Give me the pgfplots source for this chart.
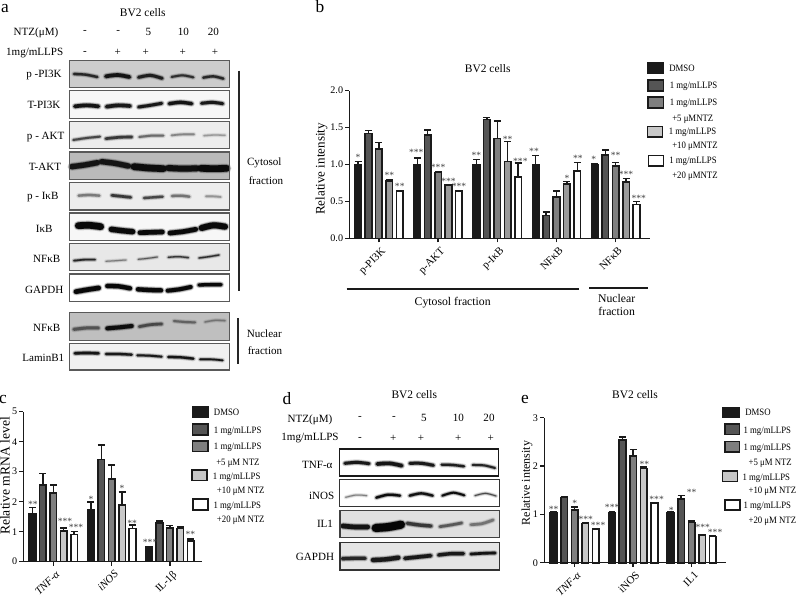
\documentclass[border=0pt]{standalone}
\usepackage{fontspec}
\setmainfont{Liberation Serif}
\newfontfamily\cond[FakeStretch=0.9]{Liberation Serif}
\usepackage{pgfplots}
\pgfplotsset{compat=1.18}

\definecolor{cA}{HTML}{1A1A1A}
\definecolor{cB}{HTML}{555555}
\definecolor{cC}{HTML}{7F7F7F}
\definecolor{cD}{HTML}{C8C8C8}
\definecolor{cDb}{HTML}{9A9A9A}
\definecolor{star}{HTML}{404040}

\newcommand\ft[1]{\fontsize{#1}{#1}\selectfont}
% text centred / left aligned at pixel positions
\newcommand\tc[4]{\node[inner sep=0pt] at (#1,#2) {\ft{#3}#4};}
\newcommand\tl[3]{\node[inner sep=0pt,anchor=west] at (#1,#2) {\cond\ft{7.3}#3};}
\newcommand\swatch[5]{\draw[line width=1.2pt,draw=cA,fill=#5] (#1,#2) rectangle (#3,#4);}

% one blot band: x left, x right, y left, y mid, y right, thickness, blackness
\newcommand\band[7]{%
  \pgfmathsetmacro\xm{(#1+#2)/2}%
  \addplot[smooth,black!#7,draw opacity=.16,line cap=round,line width={(#6+6)*0.25pt}] coordinates {(#1,#3)(\xm,#4)(#2,#5)};
  \addplot[smooth,black!#7,draw opacity=.35,line cap=round,line width={(#6+1)*0.25pt}] coordinates {(#1,#3)(\xm,#4)(#2,#5)};
  \addplot[smooth,black!#7,line cap=round,line width={(#6-3)*0.25pt}] coordinates {(#1,#3)(\xm,#4)(#2,#5)};
}
% blot panel: x1 y1 x2 y2 background frame
\newcommand\blot[6]{%
  \addplot[fill=#5,draw=none] coordinates {(#1,#2)(#3,#2)(#3,#4)(#1,#4)} --cycle;
}
\newcommand\frm[5]{%
  \addplot[draw=#5,line width=0.8pt] coordinates {(#1,#2)(#3,#2)(#3,#4)(#1,#4)} --cycle;
}

\pgfplotsset{
  ser/.style 2 args={ybar,bar width=5pt,bar shift=#1,fill=#2,draw=cA,line width=1.2pt,
    every error bar/.append style={xshift=#1},
    error bars/.cd,y dir=plus,y explicit,
    error bar style={line width=1.1pt,cA},
    error mark options={rotate=90,mark size=2.6pt,line width=1.1pt,cA}},
  stars/.style={only marks,mark=none,nodes near coords,point meta=explicit symbolic,
    nodes near coords align={center},
    every node near coord/.append style={anchor=center,inner sep=0pt,yshift=-0.6pt,text=star,font=\ft{7.2}}},
  bars/.style={scale only axis,anchor=south west,clip=false,
    axis x line*=bottom,axis y line*=left,
    axis line style={line width=1.1pt,-,cA},
    tick style={line width=1.1pt,cA},
    major tick length=3pt,tick align=outside,
    ymin=0,
    /pgf/number format/assume math mode=true,
    yticklabel style={font=\ft{7.6},inner sep=1.5pt},
    xticklabel style={font=\ft{8.2},rotate=45,anchor=north east,inner sep=1pt,yshift=-2pt},
    ylabel style={font=\ft{9}}},
  blotax/.style={scale only axis,anchor=south west,hide axis,clip=false,y dir=reverse,no markers},
}

\begin{document}
\begin{tikzpicture}
\useasboundingbox (0,0) rectangle (598.5pt,449.25pt);

% ---- blots a
\begin{axis}[blotax,at={(0pt,171.75pt)},width=240pt,height=277.5pt,xmin=0,xmax=960,ymin=0,ymax=1110]
\blot{208}{181}{688}{263}{black!20}{}
\blot{208}{272}{688}{355}{black!3}{}
\blot{208}{364}{688}{446}{black!7}{}
\blot{208}{456}{688}{538}{black!27}{}
\blot{208}{547}{688}{630}{black!7}{}
\blot{208}{639}{688}{721}{black!3}{}
\blot{208}{730}{688}{812}{black!9}{}
\blot{208}{822}{688}{905}{white}{}
\blot{208}{938}{688}{1021}{black!25}{}
\blot{208}{1030}{688}{1110}{black!6}{}
% p-PI3K
\band{222}{292}{222}{224}{231}{10}{85}
\band{318}{388}{229}{225}{231}{14}{92}
\band{416}{486}{232}{226}{235}{12}{88}
\band{515}{580}{231}{226}{232}{9}{82}
\band{610}{670}{233}{229}{236}{10}{85}
% T-PI3K
\band{225}{295}{319}{316}{319}{14}{92}
\band{320}{390}{320}{316}{318}{14}{90}
\band{416}{485}{321}{316}{310}{12}{90}
\band{508}{575}{311}{307}{311}{13}{92}
\band{605}{668}{310}{307}{311}{12}{90}
% p-AKT
\band{220}{300}{420}{414}{410}{9}{72}
\band{318}{395}{416}{412}{411}{11}{78}
\band{418}{490}{411}{407}{407}{9}{58}
\band{515}{582}{406}{403}{403}{8}{48}
\band{612}{675}{407}{405}{406}{7}{40}
% T-AKT
\band{215}{292}{500}{495}{488}{19}{92}
\band{305}{385}{485}{490}{498}{19}{92}
\band{402}{490}{500}{504}{506}{23}{95}
\band{505}{590}{504}{506}{505}{21}{94}
\band{603}{680}{505}{506}{505}{23}{96}
% p-IkB
\band{236}{298}{587}{585}{587}{10}{52}
\band{336}{392}{586}{589}{592}{11}{78}
\band{432}{488}{594}{592}{590}{10}{72}
\band{516}{568}{588}{587}{590}{10}{55}
\band{618}{662}{589}{589}{591}{8}{42}
% IkB
\band{235}{302}{677}{676}{680}{23}{97}
\band{334}{398}{688}{692}{695}{19}{96}
\band{420}{487}{698}{697}{696}{17}{96}
\band{510}{587}{699}{695}{688}{17}{96}
\band{605}{675}{684}{676}{680}{21}{96}
% NFkB
\band{222}{285}{782}{779}{779}{8}{85}
\band{318}{378}{784}{782}{780}{6}{52}
\band{415}{472}{778}{775}{771}{6}{65}
\band{505}{565}{772}{770}{773}{7}{78}
\band{597}{657}{774}{770}{765}{7}{82}
% GAPDH
\band{228}{296}{875}{869}{864}{17}{97}
\band{322}{390}{858}{859}{865}{16}{97}
\band{414}{483}{868}{870}{871}{16}{97}
\band{503}{572}{872}{868}{861}{15}{97}
\band{597}{663}{855}{854}{854}{13}{97}
% nuclear NFkB
\band{222}{295}{988}{984}{984}{12}{68}
\band{322}{395}{985}{982}{978}{15}{95}
\band{418}{485}{980}{974}{972}{11}{72}
\band{522}{585}{963}{966}{967}{9}{62}
\band{615}{675}{966}{961}{962}{7}{55}
% LaminB1
\band{225}{295}{1060}{1059}{1060}{11}{92}
\band{318}{395}{1062}{1062}{1064}{10}{90}
\band{412}{485}{1066}{1067}{1070}{9}{90}
\band{505}{580}{1071}{1072}{1076}{10}{92}
\band{600}{668}{1078}{1078}{1081}{8}{92}
\frm{208}{181}{688}{263}{black!65}
\frm{208}{272}{688}{355}{black!65}
\frm{208}{364}{688}{446}{black!65}
\frm{208}{456}{688}{538}{black!65}
\frm{208}{547}{688}{630}{black!65}
\frm{208}{639}{688}{721}{black!65}
\frm{208}{730}{688}{812}{black!65}
\frm{208}{822}{688}{905}{black!65}
\frm{208}{938}{688}{1021}{black!65}
\frm{208}{1030}{688}{1110}{black!65}
\end{axis}

% ---- blots d
\begin{axis}[blotax,at={(213.75pt,0pt)},width=168.75pt,height=164.25pt,xmin=0,xmax=675,ymin=0,ymax=657]
\blot{163}{207}{640}{288}{white}{}
\blot{163}{298}{643}{380}{white}{}
\blot{165}{391}{643}{473}{black!12}{}
\blot{165}{488}{643}{570}{black!10}{}
\band{180}{252}{250}{247}{251}{12}{90}
\band{277}{350}{252}{250}{257}{14}{92}
\band{375}{445}{250}{250}{256}{12}{90}
\band{470}{537}{254}{255}{259}{10}{88}
\band{563}{630}{255}{256}{264}{9}{85}
\band{182}{245}{352}{345}{347}{6}{50}
\band{274}{345}{353}{344}{347}{10}{95}
\band{374}{443}{347}{340}{347}{10}{93}
\band{472}{538}{347}{338}{346}{9}{95}
\band{570}{633}{347}{340}{348}{6}{70}
\band{174}{248}{438}{441}{441}{17}{92}
\band{272}{348}{444}{441}{434}{27}{98}
\band{367}{438}{430}{435}{438}{13}{78}
\band{465}{530}{440}{435}{429}{11}{65}
\band{558}{624}{434}{431}{420}{11}{55}
\band{172}{240}{536}{535}{535}{13}{85}
\band{264}{340}{540}{538}{533}{16}{90}
\band{360}{437}{535}{531}{527}{14}{90}
\band{461}{535}{525}{521}{521}{13}{90}
\band{558}{630}{522}{520}{519}{11}{92}
\frm{163}{207}{640}{288}{black!90}
\frm{163}{298}{643}{380}{black!80}
\frm{165}{391}{643}{473}{black!75}
\frm{165}{488}{643}{570}{black!80}
\end{axis}

% ---- panel b
\begin{axis}[bars,at={(262pt,270.4pt)},width=225.5pt,height=110.85pt,
  xmin=-0.5,xmax=4.58,ymax=2,ytick={0,0.5,1,1.5,2},
  yticklabel style={/pgf/number format/.cd,fixed,fixed zerofill,precision=1},
  xtick={0,1,2,3,4},xticklabels={p-PI3K,p-AKT,p-IκB,NFκB,NFκB}]
\addplot[ser={-15.6pt}{cA}] table[y error=e] {
x y e
0 1.00 0.04
1 1.00 0.09
2 1.00 0.07
3 1.00 0.12
4 1.00 0.01
};
\addplot[ser={-7.8pt}{cB}] table[y error=e] {
x y e
0 1.42 0.04
1 1.40 0.07
2 1.61 0.03
3 0.31 0.05
4 1.13 0.07
};
\addplot[ser={0pt}{cC}] table[y error=e] {
x y e
0 1.21 0.09
1 0.89 0.01
2 1.35 0.24
3 0.56 0.08
4 0.98 0.05
};
\addplot[ser={7.8pt}{cDb}] table[y error=e] {
x y e
0 0.78 0.02
1 0.72 0.01
2 1.04 0.27
3 0.74 0.03
4 0.76 0.05
};
\addplot[ser={15.6pt}{white}] table[y error=e] {
x y e
0 0.64 0.01
1 0.64 0.01
2 0.83 0.19
3 0.91 0.12
4 0.46 0.04
};
\addplot[stars] table[meta=s] {
x y s
-0.352 1.11 {*}
0.176 0.86 {**}
0.352 0.71 {**}
0.63 1.17 {***}
1 0.97 {***}
1.176 0.78 {***}
1.352 0.71 {***}
1.648 1.13 {**}
2.176 1.35 {**}
2.39 1.06 {***}
2.62 1.19 {**}
3.176 0.83 {*}
3.36 1.09 {**}
3.63 1.08 {*}
4 1.13 {**}
4.176 0.88 {***}
4.39 0.55 {***}
};
\end{axis}

% ---- panel c
\begin{axis}[bars,at={(17.5pt,28pt)},width=133.8pt,height=112.5pt,
  xmin=-0.515,xmax=2.545,ymax=5,ytick={0,1,2,3,4,5},
  xtick={0,1,2},xticklabels={\textit{TNF-α},\textit{iNOS},IL-1β}]
\addplot[ser={-15.6pt}{cA}] table[y error=e] {
x y e
0 1.61 0.19
1 1.74 0.25
2 0.49 0.02
};
\addplot[ser={-7.8pt}{cB}] table[y error=e] {
x y e
0 2.55 0.39
1 3.40 0.49
2 1.28 0.07
};
\addplot[ser={0pt}{cC}] table[y error=e] {
x y e
0 2.28 0.27
1 2.76 0.46
2 1.12 0.08
};
\addplot[ser={7.8pt}{cD}] table[y error=e] {
x y e
0 1.03 0.10
1 1.89 0.44
2 1.11 0.04
};
\addplot[ser={15.6pt}{white}] table[y error=e] {
x y e
0 0.91 0.09
1 1.10 0.13
2 0.69 0.07
};
\addplot[stars] table[meta=s] {
x y s
-0.352 1.94 {**}
0.2 1.36 {***}
0.39 1.17 {***}
0.648 2.11 {*}
1.176 2.48 {*}
1.352 1.32 {**}
1.66 0.66 {***}
2.352 0.93 {**}
};
\end{axis}

% ---- panel e
\begin{axis}[bars,at={(408.2pt,27.2pt)},width=136.3pt,height=108.75pt,
  xmin=-0.52,xmax=2.586,ymax=3,ytick={0,1,2,3},
  xtick={0,1,2},xticklabels={\textit{TNF-α},iNOS,IL1}]
\addplot[ser={-15.9pt}{cA}] table[y error=e] {
x y e
0 1.03 0.02
1 1.04 0.02
2 1.03 0.02
};
\addplot[ser={-7.95pt}{cB}] table[y error=e] {
x y e
0 1.35 0.02
1 2.54 0.06
2 1.32 0.07
};
\addplot[ser={0pt}{cC}] table[y error=e] {
x y e
0 1.09 0.06
1 2.21 0.13
2 0.83 0.03
};
\addplot[ser={7.95pt}{cD}] table[y error=e] {
x y e
0 0.81 0.01
1 1.95 0.03
2 0.57 0.01
};
\addplot[ser={15.9pt}{white}] table[y error=e] {
x y e
0 0.70 0.01
1 1.23 0.02
2 0.54 0.01
};
\addplot[stars] table[meta=s] {
x y s
-0.36 1.12 {**}
0 1.25 {*}
0.19 0.92 {***}
0.4 0.79 {***}
0.64 1.17 {***}
1.19 2.06 {**}
1.4 1.32 {***}
1.65 1.10 {*}
2 1.48 {**}
2.19 0.74 {***}
2.4 0.64 {***}
};
\end{axis}

% ---- text and rules, in pixel positions of the figure
\begin{scope}[shift={(0,449.25pt)},x=0.75pt,y=-0.75pt]
% panel letters
\tc{5}{9}{13}{a}
\tc{320}{7}{13}{b}
\tc{3}{400}{13}{c}
\tc{287}{399}{13}{d}
\tc{525}{400}{13}{e}

% panel a labels
\tc{142.7}{12.7}{8.6}{BV2 cells}
\tc{36}{33}{8.3}{NTZ(μM)}
\tc{85}{32}{8.3}{-}
\tc{118.3}{32}{8.3}{-}
\tc{148.3}{32}{8.3}{5}
\tc{183.3}{32}{8.3}{10}
\tc{213.3}{32}{8.3}{20}
\tc{34.7}{52.7}{8.3}{1mg/mLLPS}
\tc{85}{53}{8.3}{-}
\tc{117.7}{52.7}{8.3}{+}
\tc{145.7}{52.7}{8.3}{+}
\tc{182.7}{52.7}{8.3}{+}
\tc{215}{52.7}{8.3}{+}
\tc{44}{75.3}{8.3}{p -PI3K}
\tc{44}{105.3}{8.3}{T-PI3K}
\tc{45.7}{136.7}{8.3}{p - AKT}
\tc{45}{167}{8.3}{T-AKT}
\tc{42.7}{197.3}{8.3}{p - IκB}
\tc{44.3}{228.7}{8.3}{IκB}
\tc{46.7}{258.7}{8.3}{NFκB}
\tc{44.3}{289.7}{8.3}{GAPDH}
\tc{46.7}{327.7}{8.3}{NFκB}
\tc{43.3}{358.3}{8.3}{LaminB1}
\draw[line width=1.6pt,black!85] (239.3,70.7) -- (239.3,290.7);
\draw[line width=1.6pt,black!85] (238.3,318.3) -- (238.3,364);
\tc{264.3}{163.3}{8.3}{Cytosol}
\tc{266}{181}{8.3}{fraction}
\tc{264.3}{333.3}{8.3}{Nuclear}
\tc{265}{350.7}{8.3}{fraction}

% panel b extras
\tc{487.7}{69}{8.6}{BV2 cells}
\node[inner sep=0pt,rotate=90] at (321.5,169) {\ft{9.8}Relative intensity};
\draw[line width=1.4pt,cA] (346.7,288.7) -- (579,288.7);
\draw[line width=1.4pt,cA] (589,287.7) -- (648.3,287.7);
\tc{452.7}{302.7}{8.8}{Cytosol fraction}
\tc{616.7}{298.3}{8.8}{Nuclear}
\tc{616.7}{311.5}{8.8}{fraction}
\swatch{647.7}{62.7}{663.3}{73.3}{cA}
\swatch{647.7}{80}{663.3}{91.3}{cB}
\swatch{647.7}{97.3}{663.3}{108.3}{cC}
\swatch{647.3}{126.7}{662.3}{137.3}{cD}
\swatch{648.3}{155.7}{663.3}{166}{white}
\tl{669}{68.3}{DMSO}
\tl{669.5}{86.7}{1 mg/mLLPS}
\tl{669.5}{103.3}{1 mg/mLLPS}
\tl{672}{119}{+5 μMNTZ}
\tl{668.5}{132.7}{1 mg/mLLPS}
\tl{672}{146.7}{+10 μMNTZ}
\tl{669}{161.7}{1 mg/mLLPS}
\tl{672}{176.7}{+20 μMNTZ}

% panel c extras
\node[inner sep=0pt,rotate=90] at (5,476) {\ft{10.2}Relative mRNA level};
\swatch{192.3}{407.3}{207.7}{417.7}{cA}
\swatch{192.3}{424}{207.7}{435}{cB}
\swatch{192.3}{441}{207.7}{451.7}{cC}
\swatch{191.7}{470}{207}{480.7}{cD}
\swatch{192.7}{499.3}{207.7}{510}{white}
\tl{213.7}{412.7}{DMSO}
\tl{213.7}{431}{1 mg/mLLPS}
\tl{213.7}{447.7}{1 mg/mLLPS}
\tl{216}{463.7}{+5 μM NTZ}
\tl{212.7}{477.3}{1 mg/mLLPS}
\tl{216.7}{491.7}{+10 μM NTZ}
\tl{213.3}{506}{1 mg/mLLPS}
\tl{216.7}{520.7}{+20 μM NTZ}

% panel d labels
\tc{414.3}{395}{8.6}{BV2 cells}
\tc{310}{420}{8.3}{NTZ(μM)}
\tc{360}{418}{8.3}{-}
\tc{394}{418}{8.3}{-}
\tc{424}{417.7}{8.3}{5}
\tc{458.3}{417.7}{8.3}{10}
\tc{489}{417.7}{8.3}{20}
\tc{310}{438.3}{8.3}{1mg/mLLPS}
\tc{360}{438.5}{8.3}{-}
\tc{393.3}{438.3}{8.3}{+}
\tc{421}{438.3}{8.3}{+}
\tc{458.3}{438.3}{8.3}{+}
\tc{490.7}{438.3}{8.3}{+}
\tc{317.3}{465.3}{8.3}{TNF-α}
\tc{321.7}{496.3}{8.3}{iNOS}
\tc{325}{524}{8.3}{IL1}
\tc{315}{557}{8.3}{GAPDH}

% panel e extras
\tc{635}{395}{8.6}{BV2 cells}
\node[inner sep=0pt,rotate=90] at (527,483) {\ft{9}Relative intensity};
\swatch{722.3}{408}{739.3}{417.7}{cA}
\swatch{725}{424.3}{739.3}{434.7}{cB}
\swatch{725}{441.7}{739.3}{452}{cC}
\swatch{722.3}{471}{737.3}{481.7}{cD}
\swatch{724.7}{500.3}{739.7}{510}{white}
\tl{745}{412.7}{DMSO}
\tl{743.3}{431.7}{1 mg/mLLPS}
\tl{743.3}{448.3}{1 mg/mLLPS}
\tl{748.3}{463.7}{+5 μM NTZ}
\tl{742.3}{478.3}{1 mg/mLLPS}
\tl{748.3}{491.7}{+10 μM NTZ}
\tl{743.3}{506.7}{1 mg/mLLPS}
\tl{748.3}{521}{+20 μM NTZ}
\end{scope}
\end{tikzpicture}
\end{document}
